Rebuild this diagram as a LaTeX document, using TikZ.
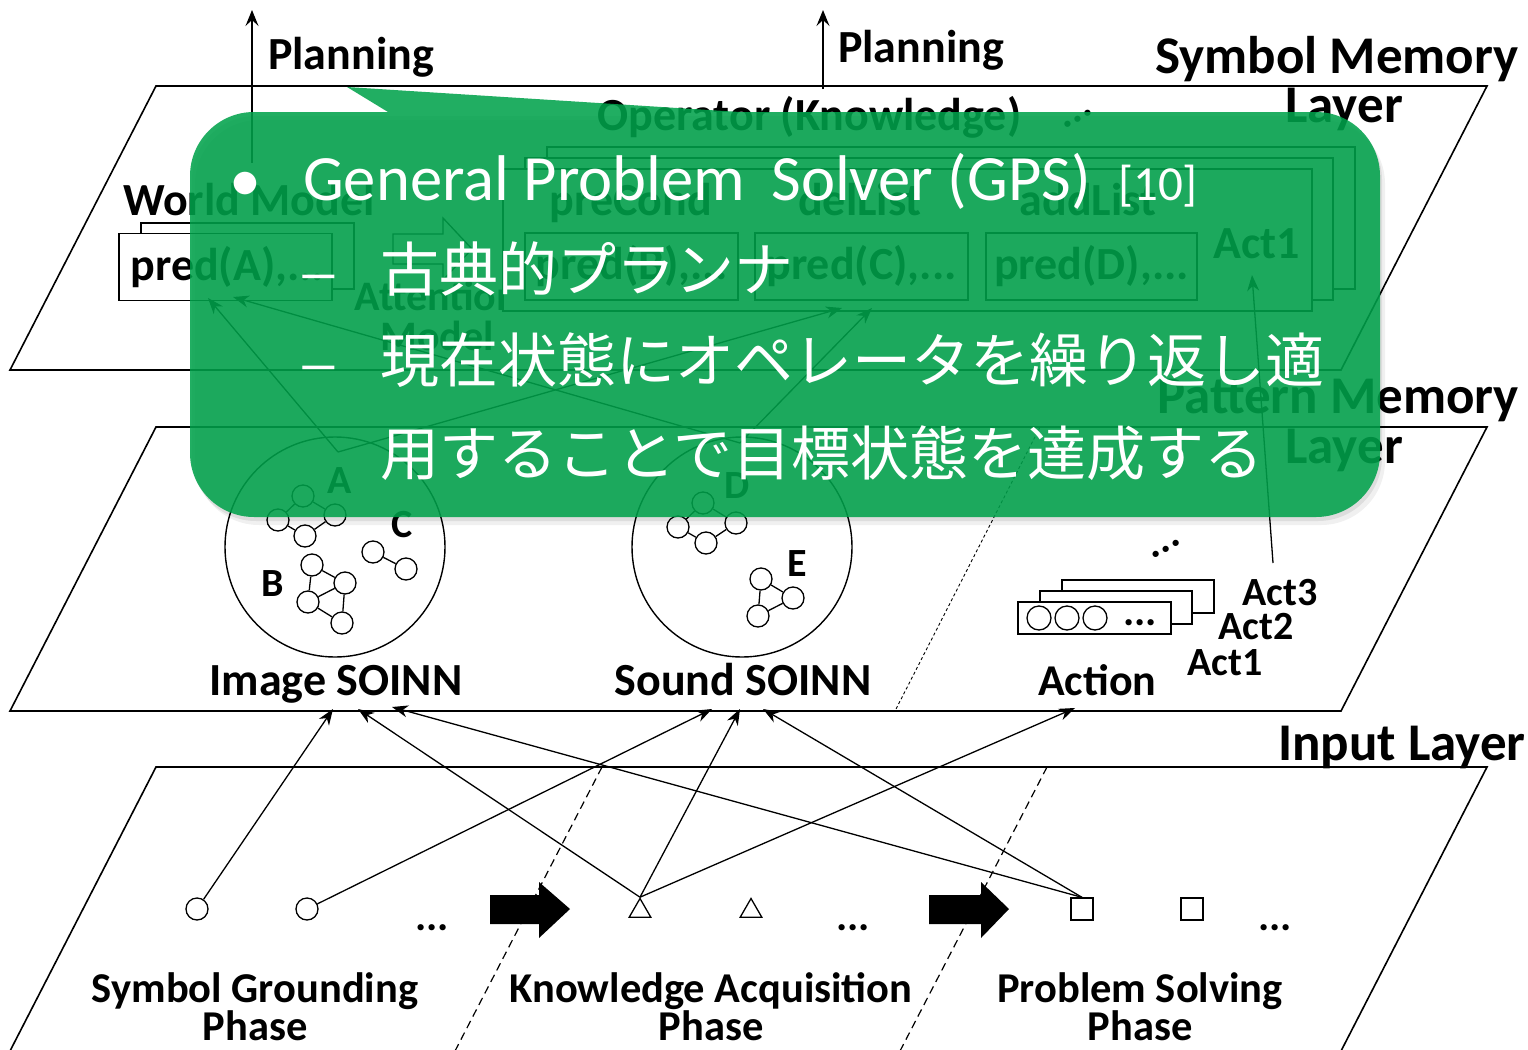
\documentclass[tikz,border=0pt]{standalone}
\usepackage{fontspec}
\setmainfont{Carlito}
\newfontfamily\jpfont{Noto Sans CJK JP}
\usetikzlibrary{arrows.meta,shapes.geometric}
\definecolor{calloutgreen}{RGB}{0,162,75}
\tikzset{
  layer/.style={draw=black, line width=1.6pt},
  lbl/.style={font=\fontsize{46}{46}\selectfont\bfseries, inner sep=0pt},
  biglbl/.style={font=\fontsize{53}{53}\selectfont\bfseries, inner sep=0pt},
  phaselbl/.style={font=\fontsize{42.5}{42.5}\selectfont\bfseries, inner sep=0pt},
  smlbl/.style={font=\fontsize{40}{40}\selectfont\bfseries, inner sep=0pt},
  dotslbl/.style={font=\fontsize{42}{42}\selectfont\bfseries, inner sep=0pt},
  gnode/.style={circle, draw, line width=1.3pt, minimum size=22pt, inner sep=0pt, fill=white},
  gedge/.style={line width=1.3pt},
  conn/.style={line width=1.3pt, -{Stealth[length=16pt,width=12pt,inset=5pt]}},
  planarrow/.style={line width=1.4pt, -{Stealth[length=16pt,width=13pt,inset=6pt]}},
  boxframe/.style={draw, line width=1.3pt, fill=white},
  predbox/.style={draw, line width=1.3pt, fill=white, inner sep=0pt, minimum height=67pt, font=\fontsize{46}{46}\selectfont\bfseries},
  phasedash/.style={line width=1.2pt, dash pattern=on 8pt off 5pt},
  finedash/.style={line width=0.9pt, dash pattern=on 3pt off 2.5pt},
  wtext/.style={text=white, inner sep=0pt},
}
\begin{document}
\begin{tikzpicture}[x=1pt,y=-1pt]
\useasboundingbox (0,0) rectangle (1528,1049);
\fill[white] (0,0) rectangle (1528,1049);

% ---------------- layers ----------------
\draw[layer] (156,86) -- (1487,86) -- (1341,370) -- (10,370) -- cycle;
\draw[layer] (156,427) -- (1487,427) -- (1341,711) -- (10,711) -- cycle;
\draw[layer] (156,767) -- (1487,767) -- (1341,1051) -- (10,1051) -- cycle;

\node[biglbl, anchor=base west] (symL1) at (1155,74) {Symbol Memory};
\node[biglbl, anchor=base west] (symL2) at (1285,122) {Layer};
\node[biglbl, anchor=base west] (patL1) at (1157,413) {Pattern Memory};
\node[biglbl, anchor=base west] (patL2) at (1285,463) {Layer};
\node[biglbl, anchor=base west] (inpL) at (1278,760) {Input Layer};

% ---------------- symbol memory layer ----------------
\coordinate (wmTop) at (252,163);
\coordinate (plan1) at (252,10);
\draw[planarrow] (wmTop) -- (plan1);
\node[lbl, anchor=base west] (planning1) at (268,70) {Planning};
\coordinate (opTop) at (823,89);
\coordinate (plan2) at (823,10);
\draw[planarrow] (opTop) -- (plan2);
\node[lbl, anchor=base west] (planning2) at (838,63) {Planning};

\node[lbl, anchor=base west] (wmLabel) at (123,215) {World Model};
\draw[boxframe] (141,223) rectangle (354,289);
\node[predbox, minimum width=213pt, text width=190pt, align=left] (predA) at (225.5,267) {pred(A),...};

% block arrow World Model -> Operator
\draw[line width=1.3pt, fill=white] (393,234) -- (443,234) -- (443,218) -- (472,249) -- (443,280) -- (443,264) -- (393,264) -- cycle;
\node[font=\fontsize{42}{42}\selectfont\bfseries, inner sep=0pt, anchor=base] (att1) at (437,310) {Attention};
\node[font=\fontsize{42}{42}\selectfont\bfseries, inner sep=0pt, anchor=base] (att2) at (437,350) {Model};

\node[lbl, anchor=base west] (opLabel) at (597,130) {Operator (Knowledge)};
\node[dotslbl, rotate=30] (opDots) at (1078,119) {...};
\draw[boxframe] (547,147) rectangle (1355,289);
\draw[boxframe] (525,158) rectangle (1333,300);
\draw[boxframe] (503,169) rectangle (1312,311);
\node[lbl, anchor=base] (preCond) at (631,215) {preCond};
\node[lbl, anchor=base] (delList) at (860,215) {delList};
\node[lbl, anchor=base] (addList) at (1088,215) {addList};
\node[predbox, minimum width=213pt] (predB) at (631.5,266.5) {pred(B),...};
\node[predbox, minimum width=213pt] (predC) at (861.5,266.5) {pred(C),...};
\node[predbox, minimum width=211pt] (predD) at (1091.5,266.5) {pred(D),...};
\node[lbl, anchor=base west] (act1top) at (1213,258) {Act1};

% ---------------- pattern memory layer ----------------
\node[circle, draw, line width=1.4pt, minimum size=220pt, inner sep=0pt] (imgSoinn) at (335,547) {};
\node[circle, draw, line width=1.4pt, minimum size=220pt, inner sep=0pt] (sndSoinn) at (742,547) {};
\node[lbl, anchor=base] (imgLbl) at (336,695) {Image SOINN};
\node[lbl, anchor=base] (sndLbl) at (743,695) {Sound SOINN};

% A
\node[gnode] (a1) at (303,496) {};
\node[gnode] (a2) at (278,520) {};
\node[gnode] (a3) at (335,515) {};
\node[gnode] (a4) at (305,536) {};
\draw[gedge] (a1) -- (a2) (a1) -- (a3) (a2) -- (a4) (a4) -- (a3);
\node[smlbl] (lblA) at (340,481) {A};
% C
\node[gnode] (cc1) at (373,552) {};
\node[gnode] (cc2) at (406,569) {};
\draw[gedge] (cc1) -- (cc2);
\node[smlbl] (lblC) at (402,525) {C};
% B
\node[gnode] (b1) at (312,565) {};
\node[gnode] (b2) at (345,583) {};
\node[gnode] (b3) at (308,602) {};
\node[gnode] (b4) at (342,623) {};
\draw[gedge] (b1) -- (b2) (b1) -- (b3) (b3) -- (b2) (b2) -- (b4) (b3) -- (b4);
\node[smlbl] (lblB) at (273,584) {B};
% D
\node[gnode] (d1) at (703,503) {};
\node[gnode] (d2) at (678,527) {};
\node[gnode] (d3) at (736,523) {};
\node[gnode] (d4) at (706,543) {};
\draw[gedge] (d1) -- (d2) (d1) -- (d3) (d2) -- (d4) (d4) -- (d3);
\node[smlbl] (lblD) at (737,486) {D};
% E
\node[gnode] (e1) at (761,579) {};
\node[gnode] (e2) at (793,598) {};
\node[gnode] (e3) at (758,616) {};
\draw[gedge] (e1) -- (e2) (e1) -- (e3) (e3) -- (e2);
\node[smlbl] (lblE) at (797,564) {E};

% Action
\draw[boxframe] (1062,580) rectangle (1214,613);
\draw[boxframe] (1040,591) rectangle (1192,624);
\draw[boxframe] (1018,602) rectangle (1171,634);
\node[gnode, minimum size=24pt] (ac1) at (1039,618) {};
\node[gnode, minimum size=24pt] (ac2) at (1067,618) {};
\node[gnode, minimum size=24pt] (ac3) at (1095,618) {};
\node[dotslbl, anchor=base] (acDots) at (1140,625) {...};
\node[dotslbl, rotate=28] (actDots) at (1166,549) {...};
\node[smlbl, anchor=base west] (act3) at (1242,605) {Act3};
\node[smlbl, anchor=base west] (act2) at (1218,639) {Act2};
\node[smlbl, anchor=base west] (act1) at (1187,675) {Act1};
\node[font=\fontsize{44}{44}\selectfont\bfseries, inner sep=0pt, anchor=base west] (actionLbl) at (1038,695) {Action};

\draw[finedash] (1040,427) -- (895,711);

% arrows to symbol layer
\coordinate (jA) at (338,452);
\coordinate (jD) at (740,443);
\coordinate (wmIn1) at (208,298);
\coordinate (wmIn2) at (233,297);
\coordinate (opIn1) at (842,308);
\coordinate (opIn2) at (872,308);
\draw[conn] (jA) -- (wmIn1);
\draw[conn] (jD) -- (wmIn2);
\draw[conn] (jA) -- (opIn1);
\draw[conn] (jD) -- (opIn2);
\coordinate (actOut) at (1273,563);
\coordinate (act1In) at (1252,275);
\draw[conn] (actOut) -- (act1In);

% ---------------- input layer ----------------
\draw[phasedash] (602,767) -- (455,1051);
\draw[phasedash] (1047,767) -- (900,1051);

\node[gnode] (c1) at (197,909) {};
\node[gnode] (c2) at (307,909) {};
\node[dotslbl, anchor=base] (dots1) at (432,930) {...};
\fill (490,895) -- (539,895) -- (539,882) -- (570,909) -- (539,938) -- (539,924) -- (490,924) -- cycle;
\node[regular polygon, regular polygon sides=3, draw, line width=1.3pt, minimum size=25pt, inner sep=0pt] (t1) at (640,911) {};
\node[regular polygon, regular polygon sides=3, draw, line width=1.3pt, minimum size=25pt, inner sep=0pt] (t2) at (751,911) {};
\node[dotslbl, anchor=base] (dots2) at (853,930) {...};
\fill (929,895) -- (981,895) -- (981,882) -- (1009,909) -- (981,938) -- (981,924) -- (929,924) -- cycle;
\node[draw, line width=1.3pt, minimum size=22pt, inner sep=0pt] (s1) at (1082,909) {};
\node[draw, line width=1.3pt, minimum size=22pt, inner sep=0pt] (s2) at (1192,909) {};
\node[dotslbl, anchor=base] (dots3) at (1275,930) {...};

\node[phaselbl, anchor=base] (sg1) at (255,1002) {Symbol Grounding};
\node[phaselbl, anchor=base] (sg2) at (255,1040) {Phase};
\node[phaselbl, anchor=base] (ka1) at (711,1002) {Knowledge Acquisition};
\node[phaselbl, anchor=base] (ka2) at (711,1040) {Phase};
\node[phaselbl, anchor=base] (ps1) at (1140,1002) {Problem Solving};
\node[phaselbl, anchor=base] (ps2) at (1140,1040) {Phase};

\coordinate (imgIn1) at (333,709);
\coordinate (imgIn2) at (358,709);
\coordinate (imgIn3) at (392,707);
\coordinate (sndIn1) at (712,709);
\coordinate (sndIn2) at (740,709);
\coordinate (sndIn3) at (763,709);
\coordinate (actIn) at (1075,708);
\draw[conn] (c1) -- (imgIn1);
\draw[conn] (c2) -- (sndIn1);
\draw[conn] (t1.corner 1) -- (imgIn2);
\draw[conn] (t1.corner 1) -- (sndIn2);
\draw[conn] (t1.corner 1) -- (actIn);
\draw[conn] (s1.north) -- (imgIn3);
\draw[conn] (s1.north) -- (sndIn3);

% ---------------- callout ----------------
\begin{scope}[shift={(5,8)}]
\fill[black, opacity=0.06] (190,453) -- (190,176) arc[start angle=180,end angle=270,radius=64] -- (1316,112) arc[start angle=270,end angle=360,radius=64] -- (1380,453) arc[start angle=0,end angle=90,radius=64] -- (254,517) arc[start angle=90,end angle=180,radius=64] -- cycle;
\end{scope}
\begin{scope}[shift={(2,4)}]
\fill[black, opacity=0.08] (190,453) -- (190,176) arc[start angle=180,end angle=270,radius=64] -- (1316,112) arc[start angle=270,end angle=360,radius=64] -- (1380,453) arc[start angle=0,end angle=90,radius=64] -- (254,517) arc[start angle=90,end angle=180,radius=64] -- cycle;
\end{scope}
\fill[calloutgreen, fill opacity=0.87] (190,453) -- (190,176) arc[start angle=180,end angle=270,radius=64] -- (388,112) -- (347,87) -- (740,112) -- (1316,112) arc[start angle=270,end angle=360,radius=64] -- (1380,453) arc[start angle=0,end angle=90,radius=64] -- (254,517) arc[start angle=90,end angle=180,radius=64] -- cycle;

\node[wtext, font=\fontsize{64}{64}\selectfont] (bullet) at (245,187) {•};
\node[wtext, anchor=base west, font=\fontsize{64.6}{64}\selectfont] (gps) at (303,200) {General Problem\hspace{0.18em} Solver (GPS)};
\node[wtext, anchor=base west, font=\fontsize{49}{49}\selectfont] (gpsref) at (1118,200) {[10]};
\node[wtext, anchor=base, font=\fontsize{56}{56}\selectfont] (dash1) at (319,292) {\scalebox{1.6}[1]{–}};
\node[wtext, anchor=base, font=\fontsize{56}{56}\selectfont] (dash2) at (319,383) {\scalebox{1.6}[1]{–}};
\node[wtext, anchor=west, font=\jpfont\fontsize{59}{59}\selectfont] (jp1) at (380,269) {古典的プランナ};
\node[wtext, anchor=west, font=\jpfont\fontsize{59}{59}\selectfont] (jp2) at (380,360) {現在状態にオペレータを繰り返し適};
\node[wtext, anchor=west, font=\jpfont\fontsize{59}{59}\selectfont] (jp3) at (380,453) {用することで目標状態を達成する};
\end{tikzpicture}
\end{document}
